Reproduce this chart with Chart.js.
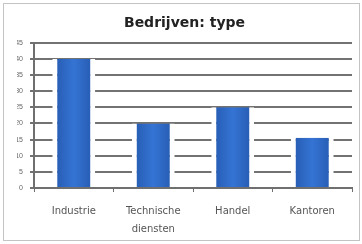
<!DOCTYPE html>
<html>
<head>
<meta charset="utf-8">
<script src="https://cdn.jsdelivr.net/npm/chart.js@4.4.0/dist/chart.umd.min.js"></script>
<style>
  html, body { margin: 0; padding: 0; background: #fff; }
  #wrap { position: relative; width: 362px; height: 244px; }
  #frame { position: absolute; left: 3px; top: 3px; width: 355px; height: 236px; border: 1px solid #c4c4c4; }
  canvas { position: absolute; left: 0; top: 0; }
</style>
</head>
<body>
<div id="wrap">
  <div id="frame"></div>
  <canvas id="chart" width="362" height="244"></canvas>
</div>
<script>
  const categories = ["Industrie", ["Technische", "diensten"], "Handel", "Kantoren"];
  const values = [40, 20, 25, 15.6];
  const yTicks = [0, 5, 10, 15, 20, 25, 30, 35, 40, 45];

  const ctx = document.getElementById("chart").getContext("2d");

  // horizontal gradient per bar, like the old office charts
  function barFill(context) {
    const el = context.element;
    if (!el || el.x === undefined || !el.width) return "#2f67c4";
    const g = ctx.createLinearGradient(el.x - el.width / 2, 0, el.x + el.width / 2, 0);
    g.addColorStop(0, "#2458ad");
    g.addColorStop(0.5, "#3574d4");
    g.addColorStop(1, "#2458ad");
    return g;
  }

  const chart = new Chart(ctx, {
    type: "bar",
    data: {
      labels: categories,
      datasets: [
        {
          label: "Bedrijven",
          data: values,
          backgroundColor: barFill,
          borderColor: "#ffffff",
          borderWidth: { left: 5, right: 5, top: 0, bottom: 0 },
          borderSkipped: "bottom",
          barPercentage: 0.54,
          categoryPercentage: 1
        }
      ]
    },
    options: {
      responsive: false,
      animation: false,
      layout: { padding: { left: 17, right: 10, top: 0, bottom: 0 } },
      plugins: {
        legend: { display: false },
        tooltip: { enabled: false },
        title: {
          display: true,
          text: "Bedrijven: type",
          color: "#222",
          font: { family: "'DejaVu Sans', sans-serif", size: 14, weight: "bold", lineHeight: 1.2 },
          padding: { top: 15, bottom: 11 }
        }
      },
      scales: {
        x: {
          grid: { display: true, drawOnChartArea: false, drawTicks: true, tickLength: 4, color: "#6f6f6f", offset: true },
          border: { display: true, color: "#6f6f6f", width: 2 },
          ticks: {
            color: "#555",
            padding: 11,
            maxRotation: 0,
            font: { family: "'DejaVu Sans', sans-serif", size: 10, lineHeight: 1.75 }
          },
          afterFit(scale) { scale.height = 56; }
        },
        y: {
          min: 0,
          max: 45,
          afterBuildTicks(scale) { scale.ticks = yTicks.map(v => ({ value: v })); },
          grid: { color: "#727272", lineWidth: 2, drawTicks: true, tickLength: 4 },
          border: { display: true, color: "#6f6f6f", width: 2 },
          ticks: {
            color: "#666",
            padding: 7,
            font: { family: "'Liberation Sans', sans-serif", size: 7 }
          },
          afterFit(scale) { scale.width = 17; }
        }
      }
    }
  });
  chart.update();
</script>
</body>
</html>
